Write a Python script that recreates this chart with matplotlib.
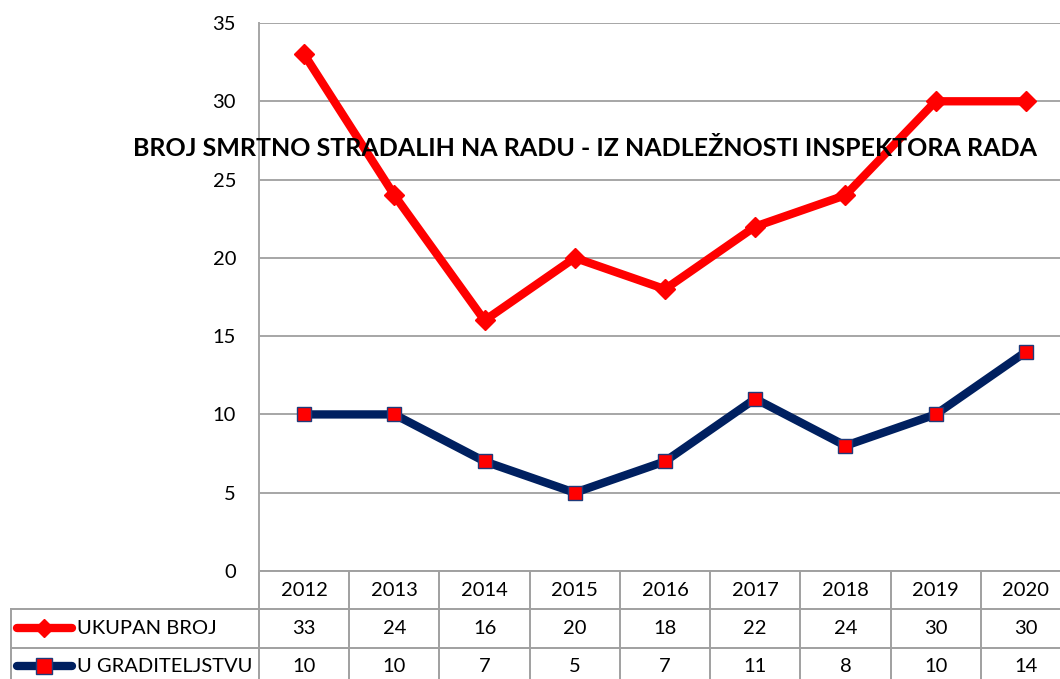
import numpy as np
import matplotlib
matplotlib.use('Agg')
import matplotlib.pyplot as plt
import matplotlib.transforms as mtransforms

years = ['2012', '2013', '2014', '2015', '2016', '2017', '2018', '2019', '2020']
ukupan = [33, 24, 16, 20, 18, 22, 24, 30, 30]
graditeljstvo = [10, 10, 7, 5, 7, 11, 8, 10, 14]
labels = ['UKUPAN BROJ', 'U GRADITELJSTVU']
title = 'BROJ SMRTNO STRADALIH NA RADU - IZ NADLEŽNOSTI INSPEKTORA RADA'

plt.rcParams['font.family'] = ['Lato', 'DejaVu Sans']

W, H = 1060, 679
fig = plt.figure(figsize=(W/100, H/100), dpi=100)
# plot area in pixels (right edge runs past the image, like the reference)
px_l, px_r, px_t, px_b = 259, 1071, 23, 571
ax = fig.add_axes([px_l/W, (H-px_b)/H, (px_r-px_l)/W, (px_b-px_t)/H])

grid_c = '#a6a6a6'
x = np.arange(len(years))
ax.set_xlim(-0.5, len(years)-0.5)
ax.set_ylim(0, 35)
ax.set_yticks(np.arange(0, 36, 5))
ax.yaxis.grid(True, color=grid_c, lw=1.4)
ax.set_axisbelow(True)
ax.set_xticks([])
for s in ['top', 'right', 'bottom']:
    ax.spines[s].set_visible(False)
ax.spines['left'].set_color(grid_c)
ax.spines['left'].set_linewidth(1.4)
fs = 14.5
ax.tick_params(axis='y', length=0, pad=16.5, labelsize=fs)

red = '#ff0000'
navy = '#002060'
ax.plot(x, ukupan, color=red, lw=6, marker='D', ms=10, mfc=red, mec=red, clip_on=False, zorder=3)
ax.plot(x, graditeljstvo, color=navy, lw=6, marker='s', ms=10.5, mfc=red, mec='#1f3a7a', mew=1, clip_on=False, zorder=3)

# data table under the plot: x in data units, y in axes fraction
tr = mtransforms.blended_transform_factory(ax.transData, ax.transAxes)
ppu = (px_r - px_l) / len(years)
ph = px_b - px_t
def yfr(py):
    return (px_b - py) / ph
x_lab = -0.5 - (px_l - 11) / ppu
rows_py = [571, 609, 648, 690]
tc = '#a0a0a0'
# horizontal lines
ax.plot([-0.5, len(years)-0.5], [yfr(571)]*2, transform=tr, color=tc, lw=1.4, clip_on=False)
for py in rows_py[1:3]:
    ax.plot([x_lab, len(years)-0.5], [yfr(py)]*2, transform=tr, color=tc, lw=1.4, clip_on=False)
# vertical lines
for i in range(len(years)+1):
    ax.plot([i-0.5]*2, [yfr(571), yfr(690)], transform=tr, color=tc, lw=1.4, clip_on=False)
ax.plot([x_lab]*2, [yfr(609), yfr(690)], transform=tr, color=tc, lw=1.4, clip_on=False)

for i, yr in enumerate(years):
    ax.text(i, yfr(590), yr, transform=tr, ha='center', va='center', fontsize=fs)
    ax.text(i, yfr(628), str(ukupan[i]), transform=tr, ha='center', va='center', fontsize=fs)
    ax.text(i, yfr(667), str(graditeljstvo[i]), transform=tr, ha='center', va='center', fontsize=fs)

# legend keys inside row label cells
for j, (lab, py) in enumerate(zip(labels, [628, 666])):
    x0 = -0.5 - (px_l - 17) / ppu
    x1 = -0.5 - (px_l - 72) / ppu
    xm = (x0 + x1) / 2
    if j == 0:
        ax.plot([x0, x1], [yfr(py)]*2, transform=tr, color=red, lw=6, solid_capstyle='round', clip_on=False)
        ax.plot([xm], [yfr(py)], transform=tr, marker='D', ms=9, color=red, clip_on=False)
    else:
        ax.plot([x0, x1], [yfr(py)]*2, transform=tr, color=navy, lw=6, solid_capstyle='round', clip_on=False)
        ax.plot([xm], [yfr(py)], transform=tr, marker='s', ms=11, mfc=red, mec='#1f3a7a', mew=1, clip_on=False)
    ax.text(-0.5 - (px_l - 77) / ppu, yfr(py), lab, transform=tr, ha='left', va='center', fontsize=fs)

fig.text(585/W, 1 - 148/H, title, ha='center', va='center', fontsize=18, fontweight='bold')

fig.savefig('out.png', dpi=100)
